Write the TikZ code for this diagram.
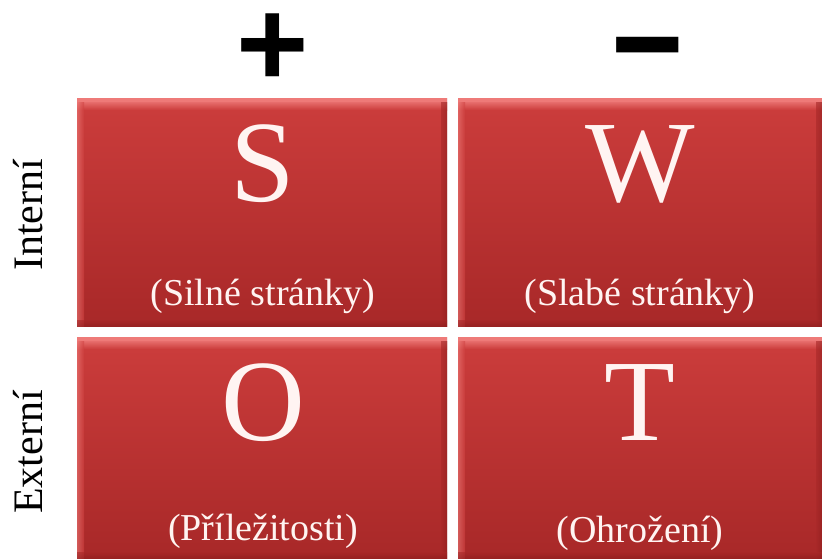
\documentclass[tikz,border=0pt]{standalone}
\usepackage{fontspec}
\setmainfont{Liberation Serif}
\newfontfamily\signfont{Liberation Sans}
\definecolor{boxtop}{HTML}{CC3D3C}
\definecolor{boxbot}{HTML}{A82828}
\definecolor{hilite}{HTML}{EE7A78}
\definecolor{shade}{HTML}{8E1E1E}
\definecolor{txtwhite}{HTML}{FFF4F2}
\tikzset{
  swotbox/.style={minimum width=370pt, minimum height=228pt, inner sep=0pt, outer sep=0pt,
     top color=boxtop, bottom color=boxbot, draw=none},
  bigletter/.style={font=\fontsize{116}{116}\selectfont, text=txtwhite, inner sep=0pt},
  subtitle/.style={font=\fontsize{38}{38}\selectfont, text=txtwhite, inner sep=0pt},
  sidelabel/.style={font=\fontsize{42}{42}\selectfont, text=black, rotate=90, inner sep=0pt},
  signlabel/.style={font=\signfont\bfseries\fontsize{124}{124}\selectfont, text=black,
     inner sep=0pt, text height=1pt, text depth=0pt, anchor=base}
}
\newcommand{\bevel}[1]{%
  \fill[hilite] (#1.north west) rectangle ([yshift=-4pt]#1.north east);
  \shade[top color=hilite, bottom color=boxtop, opacity=0.8] ([yshift=-4pt]#1.north west) rectangle ([yshift=-12pt]#1.north east);
  \shade[left color=hilite, right color=boxtop, opacity=0.6] ([yshift=-4pt]#1.north west) rectangle ([xshift=7pt]#1.south west);
  \shade[left color=boxbot, right color=shade, opacity=0.6] ([xshift=-6pt,yshift=-4pt]#1.north east) rectangle (#1.south east);
  \shade[top color=boxbot, bottom color=shade, opacity=0.6] ([yshift=6pt]#1.south west) rectangle (#1.south east);
}
\begin{document}
\begin{tikzpicture}[x=1pt,y=-1pt]
\useasboundingbox (0,0) rectangle (822,558);
\fill[white] (0,0) rectangle (822,558);
% boxes
\node[swotbox, anchor=north west] (s) at (77,98) {};
\node[swotbox, anchor=north west, minimum width=364pt] (w) at (458,98) {};
\node[swotbox, anchor=north west, minimum height=221pt] (o) at (77,337) {};
\node[swotbox, anchor=north west, minimum width=364pt, minimum height=221pt] (t) at (458,337) {};
\bevel{s}\bevel{w}\bevel{o}\bevel{t}
% letters
\node[bigletter, anchor=base] (sl) at (263,201) {S};
\node[bigletter, anchor=base] (wl) at (640,201) {W};
\node[bigletter, anchor=base] (ol) at (263,440) {O};
\node[bigletter, anchor=base] (tl) at (640,440) {T};
% subtitles
\node[subtitle, anchor=base] (ss) at (263,305) {(Silné stránky)};
\node[subtitle, anchor=base] (ws) at (640,305) {(Slabé stránky)};
\node[subtitle, anchor=base] (os) at (263,540) {(Příležitosti)};
\node[subtitle, anchor=base] (ts) at (640,542) {(Ohrožení)};
% side labels
\node[sidelabel] (int) at (28,215) {Interní};
\node[sidelabel] (ext) at (28,452) {Externí};
% signs
\node[signlabel] (plus) at (273,86) {+};
\node[signlabel, yscale=1.15] (minus) at (648,92) {−};
\end{tikzpicture}
\end{document}
